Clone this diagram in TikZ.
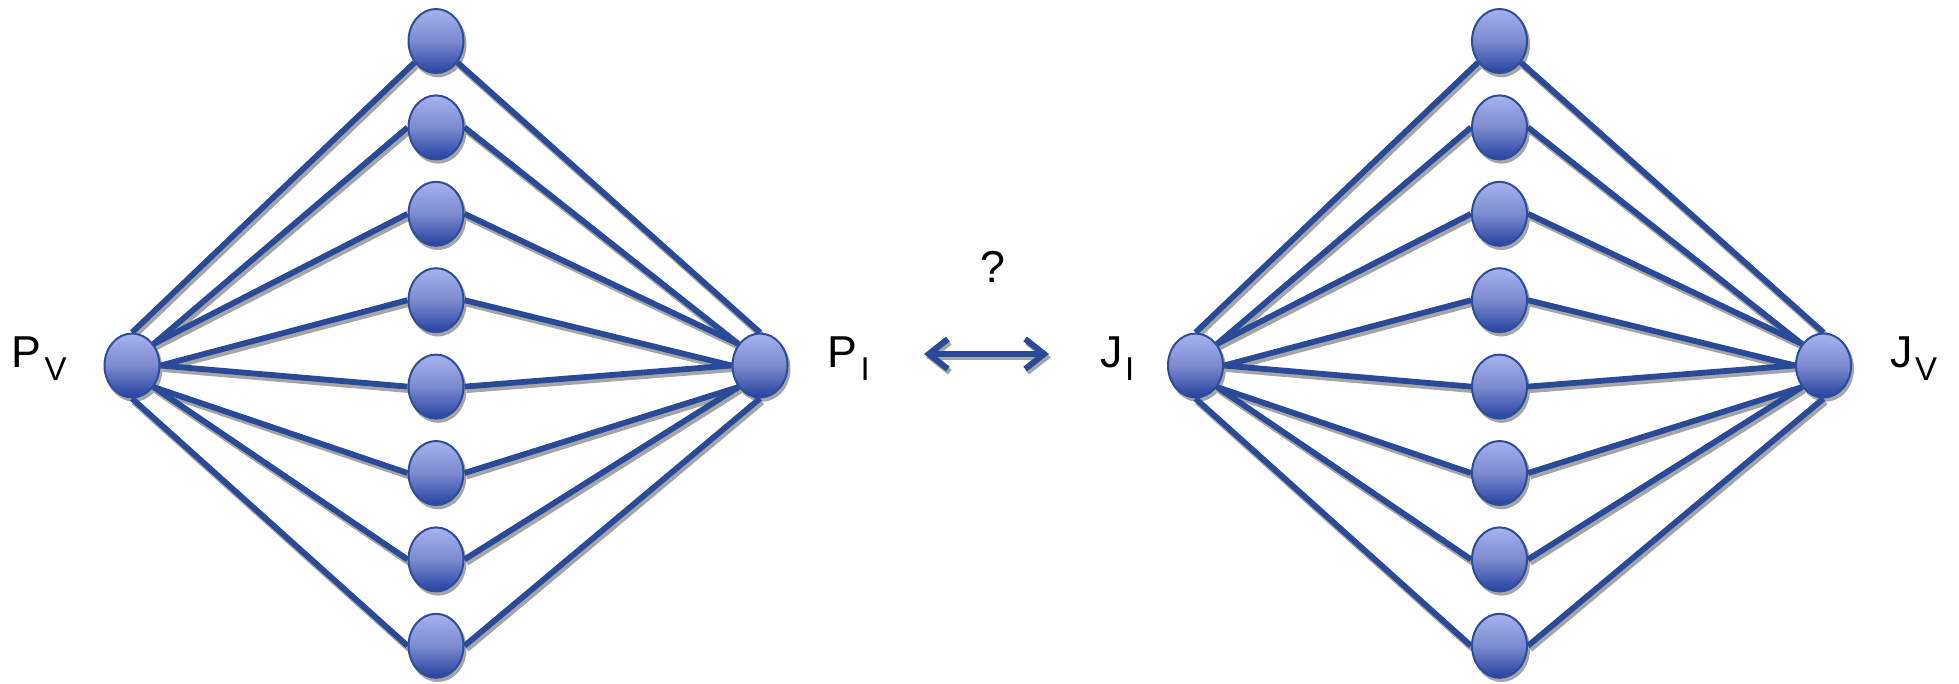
\documentclass[tikz,border=0pt]{standalone}
\usepackage{fontspec}
\setmainfont{Liberation Sans}
\usetikzlibrary{arrows.meta,backgrounds,shapes.geometric}
\definecolor{edgeblue}{RGB}{40,74,152}
\definecolor{rimblue}{RGB}{44,76,156}
\definecolor{topfill}{RGB}{166,178,238}
\definecolor{midfill}{RGB}{124,139,207}
\definecolor{botfill}{RGB}{36,66,160}
\definecolor{shadegray}{RGB}{165,165,165}
\newcommand\subsz{\fontsize{33}{36}\selectfont}
\tikzset{
  neuron/.style={ellipse, draw=rimblue, line width=2pt, minimum width=55pt,
    minimum height=64pt, inner sep=0pt, top color=topfill, bottom color=botfill,
    middle color=midfill},
  link/.style={draw=edgeblue, line width=5.8pt},
  linkshadow/.style={draw=shadegray, line width=6.5pt},
  lbl/.style={inner sep=0pt, font=\fontsize{44.7}{50}\selectfont, anchor=base west},
  barbs/.style={{Straight Barb[length=19pt,width=30pt]}-{Straight Barb[length=19pt,width=30pt]}}
}
\begin{document}
\begin{tikzpicture}[x=1pt,y=-1pt]
\useasboundingbox (0,0) rectangle (1959,683);
% nodes
\foreach \d/\ox in {a/0, b/1063.5} {
  \node[neuron] (\d-L) at (132+\ox, 365.5) {};
  \node[neuron] (\d-R) at (760+\ox, 365.5) {};
  \foreach \k in {1,...,8} {
    \node[neuron] (\d-\k) at (436+\ox, 41+86.4*\k-86.4) {};
  }
}
\coordinate (arL) at (924,354);
\coordinate (arR) at (1049,354);
% connectors
\begin{scope}[on background layer]
  \begin{scope}[transform canvas={xshift=2pt,yshift=-3.2pt}]
    \foreach \d in {a,b} {
      \foreach \k/\la/\mi/\mo/\ra in {1/north/225/315/north, 2/45/west/east/135,
          3/45/west/east/135, 4/east/west/east/west, 5/east/west/east/west,
          6/315/west/east/225, 7/315/west/east/225, 8/south/west/east/south} {
        \draw[linkshadow] (\d-L.\la) -- (\d-\k.\mi);
        \draw[linkshadow] (\d-\k.\mo) -- (\d-R.\ra);
        \fill[shadegray] (\d-\k.center) ellipse [x radius=28.5pt, y radius=33pt];
      }
      \fill[shadegray] (\d-L.center) ellipse [x radius=28.5pt, y radius=33pt];
      \fill[shadegray] (\d-R.center) ellipse [x radius=28.5pt, y radius=33pt];
    }
    \draw[linkshadow, line width=6pt, barbs] (arL) -- (arR);
  \end{scope}
  \foreach \d in {a,b} {
    \foreach \k/\la/\mi/\mo/\ra in {1/north/225/315/north, 2/45/west/east/135,
        3/45/west/east/135, 4/east/west/east/west, 5/east/west/east/west,
        6/315/west/east/225, 7/315/west/east/225, 8/south/west/east/south} {
      \draw[link] (\d-L.\la) -- (\d-\k.\mi);
      \draw[link] (\d-\k.\mo) -- (\d-R.\ra);
    }
  }
\end{scope}
\draw[link, line width=6pt, barbs] (arL) -- (arR);
% labels
\node[lbl] (pv) at (11.5,367) {P\kern3pt\raisebox{-13pt}{\subsz V}};
\node[lbl] (pi) at (827.5,367) {P\kern3pt\raisebox{-13pt}{\subsz I}};
\node[lbl] (ji) at (1100.5,367) {J\kern2pt\raisebox{-13pt}{\subsz I}};
\node[lbl] (jv) at (1890.5,367) {J\kern2pt\raisebox{-13pt}{\subsz V}};
\node[lbl, anchor=base] (q) at (993,282) {?};
\end{tikzpicture}
\end{document}
